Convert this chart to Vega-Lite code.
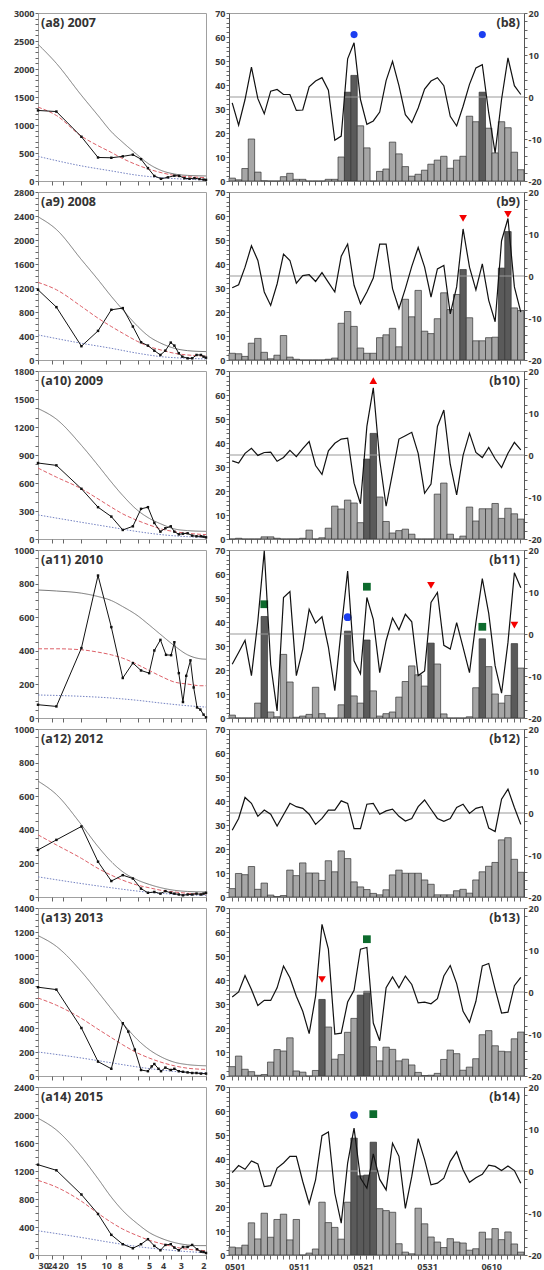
{
"$schema":"https://vega.github.io/schema/vega-lite/v6.json",
"padding":{"left":12,"top":8,"right":0,"bottom":0},
"background":"white",
"config":{
"font":"Open Sans",
"axis":{"labelFont":"Open Sans","labelFontWeight":"bold","labelFontSize":9,"labelColor":"#3a3a3a","tickColor":"#666","domainColor":"#555","grid":false,"labelPadding":1,"tickSize":3,"labelOverlap":false,"title":null},
"view":{"stroke":"#a0a0a0","strokeWidth":1},
"title":{"font":"Open Sans","fontSize":12.5,"fontWeight":"bold","color":"#333","frame":"group","baseline":"top","offset":-20}
},
"columns":2,"spacing":{"row":11,"column":23},"bounds":"flush",
"datasets":{
"Z":[{"z":0}],
"L":[
{"p":"a8","s":"g","x":30,"y":2442},{"p":"a8","s":"g","x":22.3,"y":2100},{"p":"a8","s":"g","x":14.9,"y":1530},{"p":"a8","s":"g","x":11.4,"y":1170},{"p":"a8","s":"g","x":9.2,"y":880},{"p":"a8","s":"g","x":7.65,"y":690},{"p":"a8","s":"g","x":6,"y":460},{"p":"a8","s":"g","x":5,"y":300},{"p":"a8","s":"g","x":4.13,"y":190},{"p":"a8","s":"g","x":3.33,"y":125},{"p":"a8","s":"g","x":2.69,"y":100},{"p":"a8","s":"g","x":2,"y":90},
{"p":"a8","s":"r","x":30,"y":1320},{"p":"a8","s":"r","x":22.3,"y":1170},{"p":"a8","s":"r","x":14.9,"y":800},{"p":"a8","s":"r","x":11.4,"y":630},{"p":"a8","s":"r","x":9.2,"y":510},{"p":"a8","s":"r","x":7.65,"y":400},{"p":"a8","s":"r","x":6,"y":282},{"p":"a8","s":"r","x":5,"y":210},{"p":"a8","s":"r","x":4.13,"y":150},{"p":"a8","s":"r","x":3.33,"y":100},{"p":"a8","s":"r","x":2.69,"y":78},{"p":"a8","s":"r","x":2,"y":60},
{"p":"a8","s":"b","x":30,"y":440},{"p":"a8","s":"b","x":14.9,"y":270},{"p":"a8","s":"b","x":9.2,"y":180},{"p":"a8","s":"b","x":6,"y":102},{"p":"a8","s":"b","x":4.13,"y":60},{"p":"a8","s":"b","x":2.69,"y":30},{"p":"a8","s":"b","x":2,"y":18},
{"p":"a8","s":"o","x":30,"y":1260},{"p":"a8","s":"o","x":22.3,"y":1240},{"p":"a8","s":"o","x":14.9,"y":790},{"p":"a8","s":"o","x":11.4,"y":420},{"p":"a8","s":"o","x":9.2,"y":415},{"p":"a8","s":"o","x":7.65,"y":440},{"p":"a8","s":"o","x":6.5,"y":470},{"p":"a8","s":"o","x":5.7,"y":390},{"p":"a8","s":"o","x":5.1,"y":230},{"p":"a8","s":"o","x":4.6,"y":90},{"p":"a8","s":"o","x":4.13,"y":40},{"p":"a8","s":"o","x":3.7,"y":65},{"p":"a8","s":"o","x":3.33,"y":95},{"p":"a8","s":"o","x":3.08,"y":90},{"p":"a8","s":"o","x":2.83,"y":50},{"p":"a8","s":"o","x":2.61,"y":40},{"p":"a8","s":"o","x":2.41,"y":50},{"p":"a8","s":"o","x":2.22,"y":35},{"p":"a8","s":"o","x":2.08,"y":25},{"p":"a8","s":"o","x":2,"y":20},
{"p":"a9","s":"g","x":30,"y":2387},{"p":"a9","s":"g","x":22.3,"y":2175},{"p":"a9","s":"g","x":14.9,"y":1673},{"p":"a9","s":"g","x":11.4,"y":1339},{"p":"a9","s":"g","x":9.2,"y":1060},{"p":"a9","s":"g","x":7.65,"y":837},{"p":"a9","s":"g","x":6,"y":558},{"p":"a9","s":"g","x":5,"y":390},{"p":"a9","s":"g","x":4.13,"y":279},{"p":"a9","s":"g","x":3.33,"y":195},{"p":"a9","s":"g","x":2.69,"y":156},{"p":"a9","s":"g","x":2,"y":140},
{"p":"a9","s":"r","x":30,"y":1294},{"p":"a9","s":"r","x":22.3,"y":1171},{"p":"a9","s":"r","x":14.9,"y":892},{"p":"a9","s":"r","x":11.4,"y":697},{"p":"a9","s":"r","x":9.2,"y":558},{"p":"a9","s":"r","x":7.65,"y":446},{"p":"a9","s":"r","x":6,"y":307},{"p":"a9","s":"r","x":5,"y":223},{"p":"a9","s":"r","x":4.13,"y":167},{"p":"a9","s":"r","x":3.33,"y":112},{"p":"a9","s":"r","x":2.69,"y":84},{"p":"a9","s":"r","x":2,"y":67},
{"p":"a9","s":"b","x":30,"y":418},{"p":"a9","s":"b","x":14.9,"y":279},{"p":"a9","s":"b","x":9.2,"y":195},{"p":"a9","s":"b","x":6,"y":112},{"p":"a9","s":"b","x":4.13,"y":56},{"p":"a9","s":"b","x":2.69,"y":28},{"p":"a9","s":"b","x":2,"y":17},
{"p":"a9","s":"o","x":30,"y":1171},{"p":"a9","s":"o","x":22.3,"y":881},{"p":"a9","s":"o","x":14.9,"y":230},{"p":"a9","s":"o","x":11.4,"y":485},{"p":"a9","s":"o","x":9.2,"y":837},{"p":"a9","s":"o","x":7.65,"y":865},{"p":"a9","s":"o","x":6.5,"y":558},{"p":"a9","s":"o","x":5.7,"y":296},{"p":"a9","s":"o","x":5.1,"y":240},{"p":"a9","s":"o","x":4.6,"y":156},{"p":"a9","s":"o","x":4.17,"y":84},{"p":"a9","s":"o","x":3.85,"y":156},{"p":"a9","s":"o","x":3.53,"y":290},{"p":"a9","s":"o","x":3.33,"y":240},{"p":"a9","s":"o","x":3.1,"y":112},{"p":"a9","s":"o","x":2.93,"y":56},{"p":"a9","s":"o","x":2.69,"y":28},{"p":"a9","s":"o","x":2.5,"y":28},{"p":"a9","s":"o","x":2.33,"y":84},{"p":"a9","s":"o","x":2.17,"y":84},{"p":"a9","s":"o","x":2.08,"y":56},{"p":"a9","s":"o","x":2,"y":39},
{"p":"a10","s":"g","x":30,"y":1398},{"p":"a10","s":"g","x":22.3,"y":1284},{"p":"a10","s":"g","x":14.9,"y":1004},{"p":"a10","s":"g","x":11.4,"y":789},{"p":"a10","s":"g","x":9.2,"y":610},{"p":"a10","s":"g","x":7.65,"y":466},{"p":"a10","s":"g","x":6,"y":305},{"p":"a10","s":"g","x":5,"y":222},{"p":"a10","s":"g","x":4.13,"y":161},{"p":"a10","s":"g","x":3.33,"y":108},{"p":"a10","s":"g","x":2.69,"y":90},{"p":"a10","s":"g","x":2,"y":82},
{"p":"a10","s":"r","x":30,"y":760},{"p":"a10","s":"r","x":22.3,"y":663},{"p":"a10","s":"r","x":14.9,"y":538},{"p":"a10","s":"r","x":11.4,"y":430},{"p":"a10","s":"r","x":9.2,"y":341},{"p":"a10","s":"r","x":7.65,"y":269},{"p":"a10","s":"r","x":6,"y":197},{"p":"a10","s":"r","x":5,"y":151},{"p":"a10","s":"r","x":4.13,"y":108},{"p":"a10","s":"r","x":3.33,"y":79},{"p":"a10","s":"r","x":2.69,"y":61},{"p":"a10","s":"r","x":2,"y":47},
{"p":"a10","s":"b","x":30,"y":258},{"p":"a10","s":"b","x":14.9,"y":179},{"p":"a10","s":"b","x":9.2,"y":126},{"p":"a10","s":"b","x":6,"y":79},{"p":"a10","s":"b","x":4.13,"y":47},{"p":"a10","s":"b","x":2.69,"y":25},{"p":"a10","s":"b","x":2,"y":18},
{"p":"a10","s":"o","x":30,"y":814},{"p":"a10","s":"o","x":22.3,"y":789},{"p":"a10","s":"o","x":14.9,"y":538},{"p":"a10","s":"o","x":11.4,"y":341},{"p":"a10","s":"o","x":9.2,"y":240},{"p":"a10","s":"o","x":7.65,"y":97},{"p":"a10","s":"o","x":6.5,"y":136},{"p":"a10","s":"o","x":5.7,"y":323},{"p":"a10","s":"o","x":5.1,"y":341},{"p":"a10","s":"o","x":4.6,"y":172},{"p":"a10","s":"o","x":4.17,"y":79},{"p":"a10","s":"o","x":3.85,"y":115},{"p":"a10","s":"o","x":3.53,"y":136},{"p":"a10","s":"o","x":3.33,"y":79},{"p":"a10","s":"o","x":3.1,"y":50},{"p":"a10","s":"o","x":2.9,"y":57},{"p":"a10","s":"o","x":2.69,"y":61},{"p":"a10","s":"o","x":2.5,"y":36},{"p":"a10","s":"o","x":2.33,"y":29},{"p":"a10","s":"o","x":2.17,"y":29},{"p":"a10","s":"o","x":2.08,"y":25},{"p":"a10","s":"o","x":2,"y":18},
{"p":"a11","s":"g","x":30,"y":762},{"p":"a11","s":"g","x":22.3,"y":756},{"p":"a11","s":"g","x":14.9,"y":743},{"p":"a11","s":"g","x":11.4,"y":723},{"p":"a11","s":"g","x":9.2,"y":699},{"p":"a11","s":"g","x":7.65,"y":663},{"p":"a11","s":"g","x":6,"y":608},{"p":"a11","s":"g","x":5,"y":554},{"p":"a11","s":"g","x":4.13,"y":495},{"p":"a11","s":"g","x":3.33,"y":430},{"p":"a11","s":"g","x":2.69,"y":376},{"p":"a11","s":"g","x":2.17,"y":352},{"p":"a11","s":"g","x":2,"y":350},
{"p":"a11","s":"r","x":30,"y":412},{"p":"a11","s":"r","x":22.3,"y":412},{"p":"a11","s":"r","x":14.9,"y":406},{"p":"a11","s":"r","x":11.4,"y":392},{"p":"a11","s":"r","x":9.2,"y":376},{"p":"a11","s":"r","x":7.65,"y":356},{"p":"a11","s":"r","x":6,"y":317},{"p":"a11","s":"r","x":5,"y":283},{"p":"a11","s":"r","x":4.13,"y":248},{"p":"a11","s":"r","x":3.33,"y":214},{"p":"a11","s":"r","x":2.69,"y":202},{"p":"a11","s":"r","x":2.17,"y":192},{"p":"a11","s":"r","x":2,"y":192},
{"p":"a11","s":"b","x":30,"y":137},{"p":"a11","s":"b","x":14.9,"y":129},{"p":"a11","s":"b","x":9.2,"y":119},{"p":"a11","s":"b","x":6,"y":105},{"p":"a11","s":"b","x":4.13,"y":89},{"p":"a11","s":"b","x":2.69,"y":73},{"p":"a11","s":"b","x":2,"y":65},
{"p":"a11","s":"o","x":30,"y":79},{"p":"a11","s":"o","x":22.3,"y":69},{"p":"a11","s":"o","x":14.9,"y":416},{"p":"a11","s":"o","x":11.4,"y":848},{"p":"a11","s":"o","x":9.2,"y":541},{"p":"a11","s":"o","x":7.65,"y":238},{"p":"a11","s":"o","x":6.5,"y":327},{"p":"a11","s":"o","x":5.7,"y":283},{"p":"a11","s":"o","x":5,"y":267},{"p":"a11","s":"o","x":4.6,"y":402},{"p":"a11","s":"o","x":4.17,"y":465},{"p":"a11","s":"o","x":3.81,"y":376},{"p":"a11","s":"o","x":3.51,"y":374},{"p":"a11","s":"o","x":3.33,"y":451},{"p":"a11","s":"o","x":3.1,"y":267},{"p":"a11","s":"o","x":2.9,"y":95},{"p":"a11","s":"o","x":2.75,"y":251},{"p":"a11","s":"o","x":2.57,"y":343},{"p":"a11","s":"o","x":2.44,"y":182},{"p":"a11","s":"o","x":2.31,"y":63},{"p":"a11","s":"o","x":2.19,"y":50},{"p":"a11","s":"o","x":2.08,"y":20},{"p":"a11","s":"o","x":2,"y":4},
{"p":"a12","s":"g","x":30,"y":690},{"p":"a12","s":"g","x":22.3,"y":610},{"p":"a12","s":"g","x":14.9,"y":430},{"p":"a12","s":"g","x":11.4,"y":300},{"p":"a12","s":"g","x":9.2,"y":210},{"p":"a12","s":"g","x":7.65,"y":150},{"p":"a12","s":"g","x":6,"y":100},{"p":"a12","s":"g","x":5,"y":75},{"p":"a12","s":"g","x":4.13,"y":55},{"p":"a12","s":"g","x":3.33,"y":40},{"p":"a12","s":"g","x":2.69,"y":33},{"p":"a12","s":"g","x":2,"y":30},
{"p":"a12","s":"r","x":30,"y":370},{"p":"a12","s":"r","x":22.3,"y":310},{"p":"a12","s":"r","x":14.9,"y":230},{"p":"a12","s":"r","x":11.4,"y":170},{"p":"a12","s":"r","x":9.2,"y":130},{"p":"a12","s":"r","x":7.65,"y":100},{"p":"a12","s":"r","x":6,"y":70},{"p":"a12","s":"r","x":5,"y":55},{"p":"a12","s":"r","x":4.13,"y":40},{"p":"a12","s":"r","x":3.33,"y":30},{"p":"a12","s":"r","x":2.69,"y":22},{"p":"a12","s":"r","x":2,"y":17},
{"p":"a12","s":"b","x":30,"y":120},{"p":"a12","s":"b","x":14.9,"y":80},{"p":"a12","s":"b","x":9.2,"y":55},{"p":"a12","s":"b","x":6,"y":35},{"p":"a12","s":"b","x":4.13,"y":22},{"p":"a12","s":"b","x":2.69,"y":12},{"p":"a12","s":"b","x":2,"y":10},
{"p":"a12","s":"o","x":30,"y":280},{"p":"a12","s":"o","x":22.3,"y":340},{"p":"a12","s":"o","x":14.9,"y":420},{"p":"a12","s":"o","x":11.4,"y":210},{"p":"a12","s":"o","x":9.2,"y":95},{"p":"a12","s":"o","x":7.65,"y":130},{"p":"a12","s":"o","x":6.5,"y":110},{"p":"a12","s":"o","x":5.7,"y":50},{"p":"a12","s":"o","x":5.1,"y":25},{"p":"a12","s":"o","x":4.6,"y":30},{"p":"a12","s":"o","x":4.17,"y":20},{"p":"a12","s":"o","x":3.85,"y":35},{"p":"a12","s":"o","x":3.53,"y":25},{"p":"a12","s":"o","x":3.33,"y":20},{"p":"a12","s":"o","x":3.1,"y":15},{"p":"a12","s":"o","x":2.9,"y":10},{"p":"a12","s":"o","x":2.69,"y":15},{"p":"a12","s":"o","x":2.5,"y":15},{"p":"a12","s":"o","x":2.33,"y":20},{"p":"a12","s":"o","x":2.17,"y":15},{"p":"a12","s":"o","x":2.08,"y":20},{"p":"a12","s":"o","x":2,"y":25},
{"p":"a13","s":"g","x":30,"y":1170},{"p":"a13","s":"g","x":22.3,"y":1080},{"p":"a13","s":"g","x":14.9,"y":870},{"p":"a13","s":"g","x":11.4,"y":700},{"p":"a13","s":"g","x":9.2,"y":560},{"p":"a13","s":"g","x":7.65,"y":440},{"p":"a13","s":"g","x":6,"y":300},{"p":"a13","s":"g","x":5,"y":220},{"p":"a13","s":"g","x":4.13,"y":160},{"p":"a13","s":"g","x":3.33,"y":115},{"p":"a13","s":"g","x":2.69,"y":95},{"p":"a13","s":"g","x":2,"y":85},
{"p":"a13","s":"r","x":30,"y":650},{"p":"a13","s":"r","x":22.3,"y":590},{"p":"a13","s":"r","x":14.9,"y":480},{"p":"a13","s":"r","x":11.4,"y":390},{"p":"a13","s":"r","x":9.2,"y":320},{"p":"a13","s":"r","x":7.65,"y":260},{"p":"a13","s":"r","x":6,"y":190},{"p":"a13","s":"r","x":5,"y":150},{"p":"a13","s":"r","x":4.13,"y":115},{"p":"a13","s":"r","x":3.33,"y":85},{"p":"a13","s":"r","x":2.69,"y":65},{"p":"a13","s":"r","x":2,"y":55},
{"p":"a13","s":"b","x":30,"y":200},{"p":"a13","s":"b","x":14.9,"y":150},{"p":"a13","s":"b","x":9.2,"y":110},{"p":"a13","s":"b","x":6,"y":75},{"p":"a13","s":"b","x":4.13,"y":50},{"p":"a13","s":"b","x":2.69,"y":30},{"p":"a13","s":"b","x":2,"y":25},
{"p":"a13","s":"o","x":30,"y":740},{"p":"a13","s":"o","x":22.3,"y":720},{"p":"a13","s":"o","x":14.9,"y":400},{"p":"a13","s":"o","x":11.4,"y":120},{"p":"a13","s":"o","x":9.2,"y":60},{"p":"a13","s":"o","x":7.65,"y":440},{"p":"a13","s":"o","x":7,"y":370},{"p":"a13","s":"o","x":6.3,"y":220},{"p":"a13","s":"o","x":5.7,"y":50},{"p":"a13","s":"o","x":5.1,"y":40},{"p":"a13","s":"o","x":4.8,"y":80},{"p":"a13","s":"o","x":4.6,"y":100},{"p":"a13","s":"o","x":4.3,"y":60},{"p":"a13","s":"o","x":4.13,"y":40},{"p":"a13","s":"o","x":3.85,"y":70},{"p":"a13","s":"o","x":3.53,"y":50},{"p":"a13","s":"o","x":3.33,"y":60},{"p":"a13","s":"o","x":3.1,"y":40},{"p":"a13","s":"o","x":2.9,"y":35},{"p":"a13","s":"o","x":2.69,"y":30},{"p":"a13","s":"o","x":2.5,"y":25},{"p":"a13","s":"o","x":2.33,"y":25},{"p":"a13","s":"o","x":2.17,"y":20},{"p":"a13","s":"o","x":2,"y":20},
{"p":"a14","s":"g","x":30,"y":1954},{"p":"a14","s":"g","x":22.3,"y":1786},{"p":"a14","s":"g","x":14.9,"y":1402},{"p":"a14","s":"g","x":11.4,"y":1090},{"p":"a14","s":"g","x":9.2,"y":826},{"p":"a14","s":"g","x":7.65,"y":634},{"p":"a14","s":"g","x":6,"y":442},{"p":"a14","s":"g","x":5,"y":322},{"p":"a14","s":"g","x":4.13,"y":240},{"p":"a14","s":"g","x":3.33,"y":178},{"p":"a14","s":"g","x":2.69,"y":144},{"p":"a14","s":"g","x":2.17,"y":134},{"p":"a14","s":"g","x":2,"y":134},
{"p":"a14","s":"r","x":30,"y":1066},{"p":"a14","s":"r","x":22.3,"y":970},{"p":"a14","s":"r","x":14.9,"y":768},{"p":"a14","s":"r","x":11.4,"y":595},{"p":"a14","s":"r","x":9.2,"y":466},{"p":"a14","s":"r","x":7.65,"y":370},{"p":"a14","s":"r","x":6,"y":274},{"p":"a14","s":"r","x":5,"y":211},{"p":"a14","s":"r","x":4.13,"y":163},{"p":"a14","s":"r","x":3.33,"y":115},{"p":"a14","s":"r","x":2.69,"y":82},{"p":"a14","s":"r","x":2.17,"y":67},{"p":"a14","s":"r","x":2,"y":58},
{"p":"a14","s":"b","x":30,"y":346},{"p":"a14","s":"b","x":14.9,"y":250},{"p":"a14","s":"b","x":9.2,"y":178},{"p":"a14","s":"b","x":6,"y":120},{"p":"a14","s":"b","x":4.13,"y":82},{"p":"a14","s":"b","x":2.69,"y":48},{"p":"a14","s":"b","x":2,"y":34},
{"p":"a14","s":"o","x":30,"y":1290},{"p":"a14","s":"o","x":22.3,"y":1210},{"p":"a14","s":"o","x":14.9,"y":864},{"p":"a14","s":"o","x":11.4,"y":586},{"p":"a14","s":"o","x":9.2,"y":288},{"p":"a14","s":"o","x":7.65,"y":154},{"p":"a14","s":"o","x":6.5,"y":96},{"p":"a14","s":"o","x":5.7,"y":154},{"p":"a14","s":"o","x":5.1,"y":226},{"p":"a14","s":"o","x":4.6,"y":130},{"p":"a14","s":"o","x":4.17,"y":67},{"p":"a14","s":"o","x":3.85,"y":144},{"p":"a14","s":"o","x":3.53,"y":154},{"p":"a14","s":"o","x":3.33,"y":106},{"p":"a14","s":"o","x":3.1,"y":67},{"p":"a14","s":"o","x":2.9,"y":115},{"p":"a14","s":"o","x":2.69,"y":115},{"p":"a14","s":"o","x":2.5,"y":144},{"p":"a14","s":"o","x":2.31,"y":82},{"p":"a14","s":"o","x":2.17,"y":48},{"p":"a14","s":"o","x":2.08,"y":43},{"p":"a14","s":"o","x":2,"y":29}
],
"M":[
{"p":"b8","d":"0520","y":61,"m":"c"},{"p":"b8","d":"0609","y":61,"m":"c"},
{"p":"b9","d":"0606","y":59,"m":"v"},{"p":"b9","d":"0613","y":60.7,"m":"v"},
{"p":"b10","d":"0523","y":66,"m":"u"},
{"p":"b11","d":"0506","y":47.4,"m":"s"},{"p":"b11","d":"0519","y":42,"m":"c"},{"p":"b11","d":"0522","y":54.7,"m":"s"},{"p":"b11","d":"0601","y":55.3,"m":"v"},{"p":"b11","d":"0609","y":38,"m":"s"},{"p":"b11","d":"0614","y":38.7,"m":"v"},
{"p":"b13","d":"0515","y":40.2,"m":"v"},{"p":"b13","d":"0522","y":57,"m":"s"},
{"p":"b14","d":"0520","y":58.3,"m":"c"},{"p":"b14","d":"0523","y":58.7,"m":"s"}
],
"R":[
{"p":"b8","d":"0501","v":1.2,"t":-1.4,"k":"l"},{"p":"b8","d":"0502","v":0.5,"t":-6.7,"k":"l"},{"p":"b8","d":"0503","v":5.2,"t":-0.6,"k":"l"},{"p":"b8","d":"0504","v":17.5,"t":7.1,"k":"l"},{"p":"b8","d":"0505","v":3.7,"t":-0.4,"k":"l"},{"p":"b8","d":"0506","v":0.1,"t":-4.0,"k":"l"},{"p":"b8","d":"0507","v":0,"t":1.4,"k":"l"},{"p":"b8","d":"0508","v":0,"t":1.8,"k":"l"},{"p":"b8","d":"0509","v":1.8,"t":0.6,"k":"l"},{"p":"b8","d":"0510","v":3.2,"t":0.6,"k":"l"},{"p":"b8","d":"0511","v":0.7,"t":-3.2,"k":"l"},{"p":"b8","d":"0512","v":0.7,"t":-3.1,"k":"l"},{"p":"b8","d":"0513","v":0,"t":2.4,"k":"l"},{"p":"b8","d":"0514","v":0,"t":3.8,"k":"l"},{"p":"b8","d":"0515","v":0,"t":4.6,"k":"l"},{"p":"b8","d":"0516","v":0.7,"t":1.6,"k":"l"},{"p":"b8","d":"0517","v":0.7,"t":-10.3,"k":"l"},{"p":"b8","d":"0518","v":10,"t":-9.3,"k":"l"},{"p":"b8","d":"0519","v":37,"t":9.1,"k":"d"},{"p":"b8","d":"0520","v":44,"t":12.9,"k":"d"},{"p":"b8","d":"0521","v":23,"t":-0.6,"k":"l"},{"p":"b8","d":"0522","v":13.8,"t":-6.5,"k":"l"},{"p":"b8","d":"0523","v":0,"t":-5.7,"k":"l"},{"p":"b8","d":"0524","v":4,"t":-3.6,"k":"l"},{"p":"b8","d":"0525","v":5,"t":3.9,"k":"l"},{"p":"b8","d":"0526","v":16.2,"t":8.5,"k":"l"},{"p":"b8","d":"0527","v":11.3,"t":2.7,"k":"l"},{"p":"b8","d":"0528","v":6,"t":-4.2,"k":"l"},{"p":"b8","d":"0529","v":2,"t":-6.1,"k":"l"},{"p":"b8","d":"0530","v":2.8,"t":-2.6,"k":"l"},{"p":"b8","d":"0531","v":4.5,"t":1.9,"k":"l"},{"p":"b8","d":"0601","v":7,"t":3.8,"k":"l"},{"p":"b8","d":"0602","v":8.7,"t":4.6,"k":"l"},{"p":"b8","d":"0603","v":10.3,"t":2.7,"k":"l"},{"p":"b8","d":"0604","v":5.3,"t":-4.6,"k":"l"},{"p":"b8","d":"0605","v":8.7,"t":-6.9,"k":"l"},{"p":"b8","d":"0606","v":10.3,"t":-2.2,"k":"l"},{"p":"b8","d":"0607","v":27,"t":3.0,"k":"l"},{"p":"b8","d":"0608","v":24.7,"t":6.9,"k":"l"},{"p":"b8","d":"0609","v":37,"t":7.7,"k":"d"},{"p":"b8","d":"0610","v":22,"t":-3.8,"k":"l"},{"p":"b8","d":"0611","v":11.7,"t":-13.3,"k":"l"},{"p":"b8","d":"0612","v":24.7,"t":-0.6,"k":"l"},{"p":"b8","d":"0613","v":22.2,"t":9.3,"k":"l"},{"p":"b8","d":"0614","v":12,"t":2.7,"k":"l"},{"p":"b8","d":"0615","v":4.7,"t":0.6,"k":"l"},
{"p":"b9","d":"0501","v":2.8,"t":-2.8,"k":"l"},{"p":"b9","d":"0502","v":2.6,"t":-2.1,"k":"l"},{"p":"b9","d":"0503","v":1.5,"t":2.1,"k":"l"},{"p":"b9","d":"0504","v":7,"t":7.2,"k":"l"},{"p":"b9","d":"0505","v":9,"t":3.7,"k":"l"},{"p":"b9","d":"0506","v":3.2,"t":-3.8,"k":"l"},{"p":"b9","d":"0507","v":0.5,"t":-7.0,"k":"l"},{"p":"b9","d":"0508","v":2,"t":-1.9,"k":"l"},{"p":"b9","d":"0509","v":10.2,"t":5.2,"k":"l"},{"p":"b9","d":"0510","v":1.2,"t":3.7,"k":"l"},{"p":"b9","d":"0511","v":0.3,"t":-1.7,"k":"l"},{"p":"b9","d":"0512","v":0,"t":0.1,"k":"l"},{"p":"b9","d":"0513","v":0,"t":0.3,"k":"l"},{"p":"b9","d":"0514","v":0,"t":-1.3,"k":"l"},{"p":"b9","d":"0515","v":0,"t":0.8,"k":"l"},{"p":"b9","d":"0516","v":0.3,"t":-1.5,"k":"l"},{"p":"b9","d":"0517","v":0.8,"t":-3.8,"k":"l"},{"p":"b9","d":"0518","v":15.3,"t":4.7,"k":"l"},{"p":"b9","d":"0519","v":20.2,"t":7.6,"k":"l"},{"p":"b9","d":"0520","v":14,"t":-2.2,"k":"l"},{"p":"b9","d":"0521","v":5,"t":-6.6,"k":"l"},{"p":"b9","d":"0522","v":2.8,"t":-3.8,"k":"l"},{"p":"b9","d":"0523","v":2.8,"t":-0.5,"k":"l"},{"p":"b9","d":"0524","v":9.3,"t":7.6,"k":"l"},{"p":"b9","d":"0525","v":10.5,"t":7.6,"k":"l"},{"p":"b9","d":"0526","v":13.2,"t":-3.0,"k":"l"},{"p":"b9","d":"0527","v":5.5,"t":-7.8,"k":"l"},{"p":"b9","d":"0528","v":25.3,"t":-3.0,"k":"l"},{"p":"b9","d":"0529","v":18,"t":2.3,"k":"l"},{"p":"b9","d":"0530","v":29,"t":6.8,"k":"l"},{"p":"b9","d":"0531","v":12,"t":2.1,"k":"l"},{"p":"b9","d":"0601","v":11,"t":-5.0,"k":"l"},{"p":"b9","d":"0602","v":17.2,"t":1.7,"k":"l"},{"p":"b9","d":"0603","v":28,"t":2.5,"k":"l"},{"p":"b9","d":"0604","v":21,"t":-9.0,"k":"l"},{"p":"b9","d":"0605","v":27.3,"t":-2.6,"k":"l"},{"p":"b9","d":"0606","v":37.7,"t":11.2,"k":"d"},{"p":"b9","d":"0607","v":17.6,"t":2.1,"k":"l"},{"p":"b9","d":"0608","v":8,"t":-3.3,"k":"l"},{"p":"b9","d":"0609","v":8,"t":2.9,"k":"l"},{"p":"b9","d":"0610","v":9.3,"t":-5.8,"k":"l"},{"p":"b9","d":"0611","v":9.5,"t":-10.9,"k":"l"},{"p":"b9","d":"0612","v":38.3,"t":8.4,"k":"d"},{"p":"b9","d":"0613","v":53.5,"t":13.7,"k":"d"},{"p":"b9","d":"0614","v":21.7,"t":-2.6,"k":"l"},{"p":"b9","d":"0615","v":20.6,"t":-8.6,"k":"l"},
{"p":"b10","d":"0501","v":0,"t":-1.4,"k":"l"},{"p":"b10","d":"0502","v":0.3,"t":-1.9,"k":"l"},{"p":"b10","d":"0503","v":0,"t":0.4,"k":"l"},{"p":"b10","d":"0504","v":0,"t":1.6,"k":"l"},{"p":"b10","d":"0505","v":0,"t":-0.1,"k":"l"},{"p":"b10","d":"0506","v":0.9,"t":0.6,"k":"l"},{"p":"b10","d":"0507","v":0.9,"t":0.7,"k":"l"},{"p":"b10","d":"0508","v":0.3,"t":-1.5,"k":"l"},{"p":"b10","d":"0509","v":0,"t":-0.6,"k":"l"},{"p":"b10","d":"0510","v":0,"t":1.1,"k":"l"},{"p":"b10","d":"0511","v":0,"t":-0.4,"k":"l"},{"p":"b10","d":"0512","v":0.3,"t":1.5,"k":"l"},{"p":"b10","d":"0513","v":3.7,"t":3.2,"k":"l"},{"p":"b10","d":"0514","v":0,"t":-2.5,"k":"l"},{"p":"b10","d":"0515","v":0.5,"t":-4.6,"k":"l"},{"p":"b10","d":"0516","v":4.5,"t":1.0,"k":"l"},{"p":"b10","d":"0517","v":13.7,"t":2.8,"k":"l"},{"p":"b10","d":"0518","v":12.5,"t":3.8,"k":"l"},{"p":"b10","d":"0519","v":16.2,"t":4.0,"k":"l"},{"p":"b10","d":"0520","v":15,"t":-6.7,"k":"l"},{"p":"b10","d":"0521","v":6.8,"t":-11.6,"k":"l"},{"p":"b10","d":"0522","v":33.3,"t":6.8,"k":"d"},{"p":"b10","d":"0523","v":44,"t":16.0,"k":"d"},{"p":"b10","d":"0524","v":17.5,"t":-1.2,"k":"l"},{"p":"b10","d":"0525","v":7.3,"t":-12.2,"k":"l"},{"p":"b10","d":"0526","v":2.5,"t":-4.3,"k":"l"},{"p":"b10","d":"0527","v":3.5,"t":3.8,"k":"l"},{"p":"b10","d":"0528","v":4.1,"t":4.6,"k":"l"},{"p":"b10","d":"0529","v":2,"t":5.4,"k":"l"},{"p":"b10","d":"0530","v":0,"t":0.4,"k":"l"},{"p":"b10","d":"0531","v":0,"t":-9.1,"k":"l"},{"p":"b10","d":"0601","v":0,"t":-6.9,"k":"l"},{"p":"b10","d":"0602","v":18.7,"t":6.8,"k":"l"},{"p":"b10","d":"0603","v":23.3,"t":10.7,"k":"l"},{"p":"b10","d":"0604","v":2,"t":-2.2,"k":"l"},{"p":"b10","d":"0605","v":0,"t":-9.5,"k":"l"},{"p":"b10","d":"0606","v":1.2,"t":-0.1,"k":"l"},{"p":"b10","d":"0607","v":13.3,"t":5.2,"k":"l"},{"p":"b10","d":"0608","v":7.5,"t":0.6,"k":"l"},{"p":"b10","d":"0609","v":12.6,"t":-0.6,"k":"l"},{"p":"b10","d":"0610","v":12.6,"t":1.8,"k":"l"},{"p":"b10","d":"0611","v":14.8,"t":-0.9,"k":"l"},{"p":"b10","d":"0612","v":8.6,"t":-3.0,"k":"l"},{"p":"b10","d":"0613","v":12.8,"t":0.4,"k":"l"},{"p":"b10","d":"0614","v":10.5,"t":3.0,"k":"l"},{"p":"b10","d":"0615","v":8.3,"t":1.2,"k":"l"},
{"p":"b11","d":"0501","v":1.2,"t":-7.2,"k":"l"},{"p":"b11","d":"0502","v":0,"t":-4.4,"k":"l"},{"p":"b11","d":"0503","v":0,"t":-1.5,"k":"l"},{"p":"b11","d":"0504","v":0,"t":-9.9,"k":"l"},{"p":"b11","d":"0505","v":6.2,"t":3.1,"k":"l"},{"p":"b11","d":"0506","v":42.3,"t":19.8,"k":"d"},{"p":"b11","d":"0507","v":2.5,"t":-7.2,"k":"l"},{"p":"b11","d":"0508","v":0.5,"t":-18.3,"k":"l"},{"p":"b11","d":"0509","v":26.5,"t":8.7,"k":"l"},{"p":"b11","d":"0510","v":15,"t":10.1,"k":"l"},{"p":"b11","d":"0511","v":0.3,"t":-9.9,"k":"l"},{"p":"b11","d":"0512","v":0.8,"t":-3.6,"k":"l"},{"p":"b11","d":"0513","v":1.5,"t":5.9,"k":"l"},{"p":"b11","d":"0514","v":12.8,"t":2.6,"k":"l"},{"p":"b11","d":"0515","v":1.8,"t":4.1,"k":"l"},{"p":"b11","d":"0516","v":0,"t":-3.1,"k":"l"},{"p":"b11","d":"0517","v":0,"t":-13.5,"k":"l"},{"p":"b11","d":"0518","v":5.5,"t":1.1,"k":"l"},{"p":"b11","d":"0519","v":36.2,"t":15.0,"k":"d"},{"p":"b11","d":"0520","v":9.2,"t":-6.4,"k":"l"},{"p":"b11","d":"0521","v":6.2,"t":-9.5,"k":"l"},{"p":"b11","d":"0522","v":32.5,"t":8.7,"k":"d"},{"p":"b11","d":"0523","v":11.3,"t":3.5,"k":"l"},{"p":"b11","d":"0524","v":0.8,"t":-9.2,"k":"l"},{"p":"b11","d":"0525","v":1.8,"t":-1.6,"k":"l"},{"p":"b11","d":"0526","v":2.5,"t":3.8,"k":"l"},{"p":"b11","d":"0527","v":8.7,"t":1.0,"k":"l"},{"p":"b11","d":"0528","v":15.2,"t":4.7,"k":"l"},{"p":"b11","d":"0529","v":21.7,"t":2.9,"k":"l"},{"p":"b11","d":"0530","v":18,"t":-9.9,"k":"l"},{"p":"b11","d":"0531","v":13.3,"t":-8.8,"k":"l"},{"p":"b11","d":"0601","v":31.2,"t":7.5,"k":"d"},{"p":"b11","d":"0602","v":22.5,"t":9.9,"k":"l"},{"p":"b11","d":"0603","v":1.7,"t":-2.7,"k":"l"},{"p":"b11","d":"0604","v":0,"t":-3.6,"k":"l"},{"p":"b11","d":"0605","v":0,"t":2.7,"k":"l"},{"p":"b11","d":"0606","v":0,"t":-3.2,"k":"l"},{"p":"b11","d":"0607","v":0.5,"t":-9.2,"k":"l"},{"p":"b11","d":"0608","v":12.6,"t":2.7,"k":"l"},{"p":"b11","d":"0609","v":33,"t":13.2,"k":"d"},{"p":"b11","d":"0610","v":21.4,"t":4.9,"k":"l"},{"p":"b11","d":"0611","v":10,"t":-7.6,"k":"l"},{"p":"b11","d":"0612","v":6.2,"t":-14.1,"k":"l"},{"p":"b11","d":"0613","v":9.4,"t":-2.0,"k":"l"},{"p":"b11","d":"0614","v":31,"t":14.6,"k":"d"},{"p":"b11","d":"0615","v":20.8,"t":11.0,"k":"l"},
{"p":"b12","d":"0501","v":3.5,"t":-4.1,"k":"l"},{"p":"b12","d":"0502","v":9.8,"t":-1.3,"k":"l"},{"p":"b12","d":"0503","v":9.3,"t":3.7,"k":"l"},{"p":"b12","d":"0504","v":12.7,"t":2.3,"k":"l"},{"p":"b12","d":"0505","v":3.2,"t":-0.8,"k":"l"},{"p":"b12","d":"0506","v":5.8,"t":0.7,"k":"l"},{"p":"b12","d":"0507","v":0.8,"t":-0.3,"k":"l"},{"p":"b12","d":"0508","v":0.2,"t":-3.1,"k":"l"},{"p":"b12","d":"0509","v":0.6,"t":-0.4,"k":"l"},{"p":"b12","d":"0510","v":11.2,"t":2.3,"k":"l"},{"p":"b12","d":"0511","v":8.9,"t":1.5,"k":"l"},{"p":"b12","d":"0512","v":14.2,"t":1.1,"k":"l"},{"p":"b12","d":"0513","v":10,"t":-0.3,"k":"l"},{"p":"b12","d":"0514","v":10,"t":-2.7,"k":"l"},{"p":"b12","d":"0515","v":6.9,"t":-1.3,"k":"l"},{"p":"b12","d":"0516","v":15.1,"t":0.7,"k":"l"},{"p":"b12","d":"0517","v":10.5,"t":0.7,"k":"l"},{"p":"b12","d":"0518","v":19.2,"t":2.9,"k":"l"},{"p":"b12","d":"0519","v":16,"t":2.3,"k":"l"},{"p":"b12","d":"0520","v":6.3,"t":-3.7,"k":"l"},{"p":"b12","d":"0521","v":4.2,"t":-3.7,"k":"l"},{"p":"b12","d":"0522","v":3.1,"t":2.1,"k":"l"},{"p":"b12","d":"0523","v":1.5,"t":2.3,"k":"l"},{"p":"b12","d":"0524","v":0.9,"t":-0.3,"k":"l"},{"p":"b12","d":"0525","v":3,"t":0.5,"k":"l"},{"p":"b12","d":"0526","v":9.2,"t":0.9,"k":"l"},{"p":"b12","d":"0527","v":11.2,"t":-0.8,"k":"l"},{"p":"b12","d":"0528","v":9.9,"t":-1.9,"k":"l"},{"p":"b12","d":"0529","v":9.9,"t":-1.3,"k":"l"},{"p":"b12","d":"0530","v":9.9,"t":1.5,"k":"l"},{"p":"b12","d":"0531","v":7.1,"t":3.1,"k":"l"},{"p":"b12","d":"0601","v":5.3,"t":0.9,"k":"l"},{"p":"b12","d":"0602","v":0.9,"t":-1.3,"k":"l"},{"p":"b12","d":"0603","v":0.9,"t":-2.0,"k":"l"},{"p":"b12","d":"0604","v":0.9,"t":-1.3,"k":"l"},{"p":"b12","d":"0605","v":2.6,"t":1.3,"k":"l"},{"p":"b12","d":"0606","v":3.2,"t":2.1,"k":"l"},{"p":"b12","d":"0607","v":1.6,"t":-0.1,"k":"l"},{"p":"b12","d":"0608","v":7.1,"t":1.1,"k":"l"},{"p":"b12","d":"0609","v":10.5,"t":1.5,"k":"l"},{"p":"b12","d":"0610","v":12.8,"t":-3.6,"k":"l"},{"p":"b12","d":"0611","v":14.4,"t":-4.4,"k":"l"},{"p":"b12","d":"0612","v":23.8,"t":3.3,"k":"l"},{"p":"b12","d":"0613","v":24.7,"t":5.7,"k":"l"},{"p":"b12","d":"0614","v":15.7,"t":1.3,"k":"l"},{"p":"b12","d":"0615","v":10.3,"t":-2.7,"k":"l"},
{"p":"b13","d":"0501","v":3.9,"t":-1.2,"k":"l"},{"p":"b13","d":"0502","v":8.3,"t":0.0,"k":"l"},{"p":"b13","d":"0503","v":2.8,"t":3.9,"k":"l"},{"p":"b13","d":"0504","v":1.8,"t":0.6,"k":"l"},{"p":"b13","d":"0505","v":0.3,"t":-3.2,"k":"l"},{"p":"b13","d":"0506","v":0.6,"t":-2.0,"k":"l"},{"p":"b13","d":"0507","v":5.8,"t":-2.0,"k":"l"},{"p":"b13","d":"0508","v":11,"t":1.0,"k":"l"},{"p":"b13","d":"0509","v":10.4,"t":6.2,"k":"l"},{"p":"b13","d":"0510","v":15.9,"t":3.4,"k":"l"},{"p":"b13","d":"0511","v":2.1,"t":-1.0,"k":"l"},{"p":"b13","d":"0512","v":1.6,"t":-4.6,"k":"l"},{"p":"b13","d":"0513","v":0,"t":-9.9,"k":"l"},{"p":"b13","d":"0514","v":2.3,"t":-1.0,"k":"l"},{"p":"b13","d":"0515","v":31.9,"t":16.1,"k":"d"},{"p":"b13","d":"0516","v":20.4,"t":10.2,"k":"l"},{"p":"b13","d":"0517","v":7,"t":-10.0,"k":"l"},{"p":"b13","d":"0518","v":8.9,"t":-9.8,"k":"l"},{"p":"b13","d":"0519","v":18.2,"t":-2.4,"k":"l"},{"p":"b13","d":"0520","v":24,"t":0.4,"k":"l"},{"p":"b13","d":"0521","v":33.7,"t":10.2,"k":"d"},{"p":"b13","d":"0522","v":35.3,"t":10.6,"k":"d"},{"p":"b13","d":"0523","v":12.2,"t":-7.4,"k":"l"},{"p":"b13","d":"0524","v":6.3,"t":-11.6,"k":"l"},{"p":"b13","d":"0525","v":12,"t":1.0,"k":"l"},{"p":"b13","d":"0526","v":11.1,"t":3.6,"k":"l"},{"p":"b13","d":"0527","v":6.3,"t":1.0,"k":"l"},{"p":"b13","d":"0528","v":7,"t":3.8,"k":"l"},{"p":"b13","d":"0529","v":4.6,"t":1.8,"k":"l"},{"p":"b13","d":"0530","v":1.5,"t":-2.6,"k":"l"},{"p":"b13","d":"0531","v":0.2,"t":-2.4,"k":"l"},{"p":"b13","d":"0601","v":0.3,"t":-2.8,"k":"l"},{"p":"b13","d":"0602","v":1.1,"t":-1.6,"k":"l"},{"p":"b13","d":"0603","v":6.9,"t":3.8,"k":"l"},{"p":"b13","d":"0604","v":10.8,"t":6.3,"k":"l"},{"p":"b13","d":"0605","v":9.3,"t":2.0,"k":"l"},{"p":"b13","d":"0606","v":2.4,"t":-4.6,"k":"l"},{"p":"b13","d":"0607","v":3.7,"t":-7.2,"k":"l"},{"p":"b13","d":"0608","v":7.2,"t":-2.2,"k":"l"},{"p":"b13","d":"0609","v":17.2,"t":6.2,"k":"l"},{"p":"b13","d":"0610","v":18.9,"t":6.8,"k":"l"},{"p":"b13","d":"0611","v":12.6,"t":0.7,"k":"l"},{"p":"b13","d":"0612","v":10.3,"t":-5.0,"k":"l"},{"p":"b13","d":"0613","v":10.1,"t":-4.8,"k":"l"},{"p":"b13","d":"0614","v":15.5,"t":1.5,"k":"l"},{"p":"b13","d":"0615","v":18.3,"t":3.5,"k":"l"},
{"p":"b14","d":"0501","v":3.3,"t":-0.4,"k":"l"},{"p":"b14","d":"0502","v":3,"t":1.3,"k":"l"},{"p":"b14","d":"0503","v":4.1,"t":0.4,"k":"l"},{"p":"b14","d":"0504","v":13.4,"t":2.4,"k":"l"},{"p":"b14","d":"0505","v":6.7,"t":1.7,"k":"l"},{"p":"b14","d":"0506","v":17.4,"t":-3.7,"k":"l"},{"p":"b14","d":"0507","v":7.4,"t":-3.5,"k":"l"},{"p":"b14","d":"0508","v":14.8,"t":0.7,"k":"l"},{"p":"b14","d":"0509","v":17,"t":1.9,"k":"l"},{"p":"b14","d":"0510","v":6.3,"t":3.5,"k":"l"},{"p":"b14","d":"0511","v":14.8,"t":3.5,"k":"l"},{"p":"b14","d":"0512","v":0,"t":-2.5,"k":"l"},{"p":"b14","d":"0513","v":0.8,"t":-7.8,"k":"l"},{"p":"b14","d":"0514","v":2.5,"t":-2.1,"k":"l"},{"p":"b14","d":"0515","v":22,"t":8.4,"k":"l"},{"p":"b14","d":"0516","v":13.5,"t":9.3,"k":"l"},{"p":"b14","d":"0517","v":11.5,"t":-5.3,"k":"l"},{"p":"b14","d":"0518","v":6.6,"t":-12.4,"k":"l"},{"p":"b14","d":"0519","v":22,"t":1.9,"k":"l"},{"p":"b14","d":"0520","v":48.7,"t":10.2,"k":"d"},{"p":"b14","d":"0521","v":33,"t":-1.7,"k":"d"},{"p":"b14","d":"0522","v":33.3,"t":-4.1,"k":"d"},{"p":"b14","d":"0523","v":47,"t":4.1,"k":"d"},{"p":"b14","d":"0524","v":19.3,"t":-2.0,"k":"l"},{"p":"b14","d":"0525","v":18.5,"t":-4.5,"k":"l"},{"p":"b14","d":"0526","v":17.8,"t":6.6,"k":"l"},{"p":"b14","d":"0527","v":4.7,"t":3.5,"k":"l"},{"p":"b14","d":"0528","v":1.2,"t":-8.9,"k":"l"},{"p":"b14","d":"0529","v":0.5,"t":-1.3,"k":"l"},{"p":"b14","d":"0530","v":19.5,"t":7.7,"k":"l"},{"p":"b14","d":"0531","v":13,"t":2.7,"k":"l"},{"p":"b14","d":"0601","v":7.5,"t":-3.3,"k":"l"},{"p":"b14","d":"0602","v":5.4,"t":-2.9,"k":"l"},{"p":"b14","d":"0603","v":3.1,"t":-1.7,"k":"l"},{"p":"b14","d":"0604","v":6.8,"t":2.3,"k":"l"},{"p":"b14","d":"0605","v":5.4,"t":4.6,"k":"l"},{"p":"b14","d":"0606","v":5,"t":0.3,"k":"l"},{"p":"b14","d":"0607","v":2,"t":-2.7,"k":"l"},{"p":"b14","d":"0608","v":2.6,"t":-1.6,"k":"l"},{"p":"b14","d":"0609","v":9.5,"t":-0.8,"k":"l"},{"p":"b14","d":"0610","v":6.7,"t":1.4,"k":"l"},{"p":"b14","d":"0611","v":11,"t":1.1,"k":"l"},{"p":"b14","d":"0612","v":6.4,"t":0.1,"k":"l"},{"p":"b14","d":"0613","v":9.6,"t":1.2,"k":"l"},{"p":"b14","d":"0614","v":4.6,"t":0.1,"k":"l"},{"p":"b14","d":"0615","v":1.2,"t":-2.9,"k":"l"}
]
},
"concat":[
{"width":168,"height":168,"title":{"text":"(a8) 2007","anchor":"start","dx":3},"data":{"name":"L"},"transform":[{"filter":"datum.p=='a8'"}],
"encoding":{"x":{"field":"x","type":"quantitative","scale":{"type":"log","domain":[2,30],"reverse":true},"axis":{"values":[30,24,20,15,10,8,6,5,4,3.5,3,2.5,2],"labels":false,"domain":false,"tickSize":4}},
"y":{"field":"y","type":"quantitative","scale":{"domain":[0,3000],"nice":false},"axis":{"tickCount":30,"labelExpr":"datum.value % 500 == 0 ? '' + datum.value : ''","domain":false}}},
"layer":[
{"transform":[{"filter":"datum.s!='o'"}],"mark":{"type":"line","interpolate":"monotone","strokeWidth":1},"encoding":{"detail":{"field":"s"},"stroke":{"field":"s","scale":{"domain":["g","r","b"],"range":["#777777","#dd6068","#7482c2"]},"legend":null},"strokeDash":{"field":"s","scale":{"domain":["g","r","b"],"range":[[1,0],[4,2],[1.5,1.5]]},"legend":null}}},
{"transform":[{"filter":"datum.s=='o'"}],"mark":{"type":"line","color":"#111","strokeWidth":1,"point":{"filled":true,"size":6,"shape":"square","color":"#111"}}}]},
{"width":295,"height":168,"title":{"text":"(b8)","anchor":"end","dx":-4},
"layer":[
{"layer":[
{"data":{"name":"R"},"transform":[{"filter":"datum.p=='b8'"}],"mark":{"type":"bar","stroke":"#333","strokeWidth":0.7},"encoding":{"x":{"field":"d","type":"ordinal","scale":{"paddingInner":0,"paddingOuter":0},"axis":{"labels":false,"domain":false,"tickSize":4}},"y":{"field":"v","type":"quantitative","scale":{"domain":[0,70],"nice":false},"axis":{"tickCount":35,"labelExpr":"datum.value % 10 == 0 ? datum.label : ''"}},"color":{"field":"k","scale":{"domain":["l","d","c","v","u","s"],"range":["#a6a6a6","#5a5a5a","#1c3ef0","#f40000","#f40000","#0d6b2d"]},"legend":null}}},
{"data":{"name":"M"},"transform":[{"filter":"datum.p=='b8'"}],"mark":{"type":"point","filled":true,"size":50,"opacity":1},"encoding":{"x":{"field":"d","type":"ordinal"},"y":{"field":"y","type":"quantitative"},"color":{"field":"m","legend":null},"shape":{"field":"m","scale":{"domain":["c","v","u","s"],"range":["circle","triangle-down","triangle-up","square"]},"legend":null}}}]},
{"layer":[
{"data":{"name":"Z"},"mark":{"type":"rule","color":"#999","strokeWidth":1},"encoding":{"y":{"field":"z","type":"quantitative","scale":{"domain":[-20,20],"nice":false},"axis":{"orient":"right","tickCount":20,"labelExpr":"datum.value % 10 == 0 ? '' + datum.value : ''"}}}},
{"data":{"name":"R"},"transform":[{"filter":"datum.p=='b8'"}],"mark":{"type":"line","color":"#111","strokeWidth":1.2},"encoding":{"x":{"field":"d","type":"ordinal"},"y":{"field":"t","type":"quantitative"}}}]}],
"resolve":{"scale":{"y":"independent"}}},
{"width":168,"height":168,"title":{"text":"(a9) 2008","anchor":"start","dx":3},"data":{"name":"L"},"transform":[{"filter":"datum.p=='a9'"}],
"encoding":{"x":{"field":"x","type":"quantitative","scale":{"type":"log","domain":[2,30],"reverse":true},"axis":{"values":[30,24,20,15,10,8,6,5,4,3.5,3,2.5,2],"labels":false,"domain":false,"tickSize":4}},
"y":{"field":"y","type":"quantitative","scale":{"domain":[0,2800],"nice":false},"axis":{"tickCount":28,"labelExpr":"datum.value % 400 == 0 ? '' + datum.value : ''","domain":false}}},
"layer":[
{"transform":[{"filter":"datum.s!='o'"}],"mark":{"type":"line","interpolate":"monotone","strokeWidth":1},"encoding":{"detail":{"field":"s"},"stroke":{"field":"s","scale":{"domain":["g","r","b"],"range":["#777777","#dd6068","#7482c2"]},"legend":null},"strokeDash":{"field":"s","scale":{"domain":["g","r","b"],"range":[[1,0],[4,2],[1.5,1.5]]},"legend":null}}},
{"transform":[{"filter":"datum.s=='o'"}],"mark":{"type":"line","color":"#111","strokeWidth":1,"point":{"filled":true,"size":6,"shape":"square","color":"#111"}}}]},
{"width":295,"height":168,"title":{"text":"(b9)","anchor":"end","dx":-4},
"layer":[
{"layer":[
{"data":{"name":"R"},"transform":[{"filter":"datum.p=='b9'"}],"mark":{"type":"bar","stroke":"#333","strokeWidth":0.7},"encoding":{"x":{"field":"d","type":"ordinal","scale":{"paddingInner":0,"paddingOuter":0},"axis":{"labels":false,"domain":false,"tickSize":4}},"y":{"field":"v","type":"quantitative","scale":{"domain":[0,70],"nice":false},"axis":{"tickCount":35,"labelExpr":"datum.value % 10 == 0 ? datum.label : ''"}},"color":{"field":"k","scale":{"domain":["l","d","c","v","u","s"],"range":["#a6a6a6","#5a5a5a","#1c3ef0","#f40000","#f40000","#0d6b2d"]},"legend":null}}},
{"data":{"name":"M"},"transform":[{"filter":"datum.p=='b9'"}],"mark":{"type":"point","filled":true,"size":60,"opacity":1},"encoding":{"x":{"field":"d","type":"ordinal"},"y":{"field":"y","type":"quantitative"},"color":{"field":"m","legend":null},"shape":{"field":"m","scale":{"domain":["c","v","u","s"],"range":["circle","triangle-down","triangle-up","square"]},"legend":null}}}]},
{"layer":[
{"data":{"name":"Z"},"mark":{"type":"rule","color":"#999","strokeWidth":1},"encoding":{"y":{"field":"z","type":"quantitative","scale":{"domain":[-20,20],"nice":false},"axis":{"orient":"right","tickCount":20,"labelExpr":"datum.value % 10 == 0 ? '' + datum.value : ''"}}}},
{"data":{"name":"R"},"transform":[{"filter":"datum.p=='b9'"}],"mark":{"type":"line","color":"#111","strokeWidth":1.2},"encoding":{"x":{"field":"d","type":"ordinal"},"y":{"field":"t","type":"quantitative"}}}]}],
"resolve":{"scale":{"y":"independent"}}},
{"width":168,"height":168,"title":{"text":"(a10) 2009","anchor":"start","dx":3},"data":{"name":"L"},"transform":[{"filter":"datum.p=='a10'"}],
"encoding":{"x":{"field":"x","type":"quantitative","scale":{"type":"log","domain":[2,30],"reverse":true},"axis":{"values":[30,24,20,15,10,8,6,5,4,3.5,3,2.5,2],"labels":false,"domain":false,"tickSize":4}},
"y":{"field":"y","type":"quantitative","scale":{"domain":[0,1800],"nice":false},"axis":{"tickCount":18,"labelExpr":"datum.value % 300 == 0 ? '' + datum.value : ''","domain":false}}},
"layer":[
{"transform":[{"filter":"datum.s!='o'"}],"mark":{"type":"line","interpolate":"monotone","strokeWidth":1},"encoding":{"detail":{"field":"s"},"stroke":{"field":"s","scale":{"domain":["g","r","b"],"range":["#777777","#dd6068","#7482c2"]},"legend":null},"strokeDash":{"field":"s","scale":{"domain":["g","r","b"],"range":[[1,0],[4,2],[1.5,1.5]]},"legend":null}}},
{"transform":[{"filter":"datum.s=='o'"}],"mark":{"type":"line","color":"#111","strokeWidth":1,"point":{"filled":true,"size":6,"shape":"square","color":"#111"}}}]},
{"width":295,"height":168,"title":{"text":"(b10)","anchor":"end","dx":-4},
"layer":[
{"layer":[
{"data":{"name":"R"},"transform":[{"filter":"datum.p=='b10'"}],"mark":{"type":"bar","stroke":"#333","strokeWidth":0.7},"encoding":{"x":{"field":"d","type":"ordinal","scale":{"paddingInner":0,"paddingOuter":0},"axis":{"labels":false,"domain":false,"tickSize":4}},"y":{"field":"v","type":"quantitative","scale":{"domain":[0,70],"nice":false},"axis":{"tickCount":35,"labelExpr":"datum.value % 10 == 0 ? datum.label : ''"}},"color":{"field":"k","scale":{"domain":["l","d","c","v","u","s"],"range":["#a6a6a6","#5a5a5a","#1c3ef0","#f40000","#f40000","#0d6b2d"]},"legend":null}}},
{"data":{"name":"M"},"transform":[{"filter":"datum.p=='b10'"}],"mark":{"type":"point","filled":true,"size":60,"opacity":1},"encoding":{"x":{"field":"d","type":"ordinal"},"y":{"field":"y","type":"quantitative"},"color":{"field":"m","legend":null},"shape":{"field":"m","scale":{"domain":["c","v","u","s"],"range":["circle","triangle-down","triangle-up","square"]},"legend":null}}}]},
{"layer":[
{"data":{"name":"Z"},"mark":{"type":"rule","color":"#999","strokeWidth":1},"encoding":{"y":{"field":"z","type":"quantitative","scale":{"domain":[-20,20],"nice":false},"axis":{"orient":"right","tickCount":20,"labelExpr":"datum.value % 10 == 0 ? '' + datum.value : ''"}}}},
{"data":{"name":"R"},"transform":[{"filter":"datum.p=='b10'"}],"mark":{"type":"line","color":"#111","strokeWidth":1.2},"encoding":{"x":{"field":"d","type":"ordinal"},"y":{"field":"t","type":"quantitative"}}}]}],
"resolve":{"scale":{"y":"independent"}}},
{"width":168,"height":168,"title":{"text":"(a11) 2010","anchor":"start","dx":3},"data":{"name":"L"},"transform":[{"filter":"datum.p=='a11'"}],
"encoding":{"x":{"field":"x","type":"quantitative","scale":{"type":"log","domain":[2,30],"reverse":true},"axis":{"values":[30,24,20,15,10,8,6,5,4,3.5,3,2.5,2],"labels":false,"domain":false,"tickSize":4}},
"y":{"field":"y","type":"quantitative","scale":{"domain":[0,1000],"nice":false},"axis":{"tickCount":20,"labelExpr":"datum.value % 200 == 0 ? '' + datum.value : ''","domain":false}}},
"layer":[
{"transform":[{"filter":"datum.s!='o'"}],"mark":{"type":"line","interpolate":"monotone","strokeWidth":1},"encoding":{"detail":{"field":"s"},"stroke":{"field":"s","scale":{"domain":["g","r","b"],"range":["#777777","#dd6068","#7482c2"]},"legend":null},"strokeDash":{"field":"s","scale":{"domain":["g","r","b"],"range":[[1,0],[4,2],[1.5,1.5]]},"legend":null}}},
{"transform":[{"filter":"datum.s=='o'"}],"mark":{"type":"line","color":"#111","strokeWidth":1,"point":{"filled":true,"size":6,"shape":"square","color":"#111"}}}]},
{"width":295,"height":168,"title":{"text":"(b11)","anchor":"end","dx":-4},
"layer":[
{"layer":[
{"data":{"name":"R"},"transform":[{"filter":"datum.p=='b11'"}],"mark":{"type":"bar","stroke":"#333","strokeWidth":0.7},"encoding":{"x":{"field":"d","type":"ordinal","scale":{"paddingInner":0,"paddingOuter":0},"axis":{"labels":false,"domain":false,"tickSize":4}},"y":{"field":"v","type":"quantitative","scale":{"domain":[0,70],"nice":false},"axis":{"tickCount":35,"labelExpr":"datum.value % 10 == 0 ? datum.label : ''"}},"color":{"field":"k","scale":{"domain":["l","d","c","v","u","s"],"range":["#a6a6a6","#5a5a5a","#1c3ef0","#f40000","#f40000","#0d6b2d"]},"legend":null}}},
{"data":{"name":"M"},"transform":[{"filter":"datum.p=='b11'"}],"mark":{"type":"point","filled":true,"size":60,"opacity":1},"encoding":{"x":{"field":"d","type":"ordinal"},"y":{"field":"y","type":"quantitative"},"color":{"field":"m","legend":null},"shape":{"field":"m","scale":{"domain":["c","v","u","s"],"range":["circle","triangle-down","triangle-up","square"]},"legend":null}}}]},
{"layer":[
{"data":{"name":"Z"},"mark":{"type":"rule","color":"#999","strokeWidth":1},"encoding":{"y":{"field":"z","type":"quantitative","scale":{"domain":[-20,20],"nice":false},"axis":{"orient":"right","tickCount":20,"labelExpr":"datum.value % 10 == 0 ? '' + datum.value : ''"}}}},
{"data":{"name":"R"},"transform":[{"filter":"datum.p=='b11'"}],"mark":{"type":"line","color":"#111","strokeWidth":1.2},"encoding":{"x":{"field":"d","type":"ordinal"},"y":{"field":"t","type":"quantitative"}}}]}],
"resolve":{"scale":{"y":"independent"}}},
{"width":168,"height":168,"title":{"text":"(a12) 2012","anchor":"start","dx":3},"data":{"name":"L"},"transform":[{"filter":"datum.p=='a12'"}],
"encoding":{"x":{"field":"x","type":"quantitative","scale":{"type":"log","domain":[2,30],"reverse":true},"axis":{"values":[30,24,20,15,10,8,6,5,4,3.5,3,2.5,2],"labels":false,"domain":false,"tickSize":4}},
"y":{"field":"y","type":"quantitative","scale":{"domain":[0,1000],"nice":false},"axis":{"tickCount":20,"labelExpr":"datum.value % 200 == 0 ? '' + datum.value : ''","domain":false}}},
"layer":[
{"transform":[{"filter":"datum.s!='o'"}],"mark":{"type":"line","interpolate":"monotone","strokeWidth":1},"encoding":{"detail":{"field":"s"},"stroke":{"field":"s","scale":{"domain":["g","r","b"],"range":["#777777","#dd6068","#7482c2"]},"legend":null},"strokeDash":{"field":"s","scale":{"domain":["g","r","b"],"range":[[1,0],[4,2],[1.5,1.5]]},"legend":null}}},
{"transform":[{"filter":"datum.s=='o'"}],"mark":{"type":"line","color":"#111","strokeWidth":1,"point":{"filled":true,"size":6,"shape":"square","color":"#111"}}}]},
{"width":295,"height":168,"title":{"text":"(b12)","anchor":"end","dx":-4},
"layer":[
{"layer":[
{"data":{"name":"R"},"transform":[{"filter":"datum.p=='b12'"}],"mark":{"type":"bar","stroke":"#333","strokeWidth":0.7},"encoding":{"x":{"field":"d","type":"ordinal","scale":{"paddingInner":0,"paddingOuter":0},"axis":{"labels":false,"domain":false,"tickSize":4}},"y":{"field":"v","type":"quantitative","scale":{"domain":[0,70],"nice":false},"axis":{"tickCount":35,"labelExpr":"datum.value % 10 == 0 ? datum.label : ''"}},"color":{"field":"k","scale":{"domain":["l","d","c","v","u","s"],"range":["#a6a6a6","#5a5a5a","#1c3ef0","#f40000","#f40000","#0d6b2d"]},"legend":null}}}]},
{"layer":[
{"data":{"name":"Z"},"mark":{"type":"rule","color":"#999","strokeWidth":1},"encoding":{"y":{"field":"z","type":"quantitative","scale":{"domain":[-20,20],"nice":false},"axis":{"orient":"right","tickCount":20,"labelExpr":"datum.value % 10 == 0 ? '' + datum.value : ''"}}}},
{"data":{"name":"R"},"transform":[{"filter":"datum.p=='b12'"}],"mark":{"type":"line","color":"#111","strokeWidth":1.2},"encoding":{"x":{"field":"d","type":"ordinal"},"y":{"field":"t","type":"quantitative"}}}]}],
"resolve":{"scale":{"y":"independent"}}},
{"width":168,"height":168,"title":{"text":"(a13) 2013","anchor":"start","dx":3},"data":{"name":"L"},"transform":[{"filter":"datum.p=='a13'"}],
"encoding":{"x":{"field":"x","type":"quantitative","scale":{"type":"log","domain":[2,30],"reverse":true},"axis":{"values":[30,24,20,15,10,8,6,5,4,3.5,3,2.5,2],"labels":false,"domain":false,"tickSize":4}},
"y":{"field":"y","type":"quantitative","scale":{"domain":[0,1400],"nice":false},"axis":{"tickCount":28,"labelExpr":"datum.value % 200 == 0 ? '' + datum.value : ''","domain":false}}},
"layer":[
{"transform":[{"filter":"datum.s!='o'"}],"mark":{"type":"line","interpolate":"monotone","strokeWidth":1},"encoding":{"detail":{"field":"s"},"stroke":{"field":"s","scale":{"domain":["g","r","b"],"range":["#777777","#dd6068","#7482c2"]},"legend":null},"strokeDash":{"field":"s","scale":{"domain":["g","r","b"],"range":[[1,0],[4,2],[1.5,1.5]]},"legend":null}}},
{"transform":[{"filter":"datum.s=='o'"}],"mark":{"type":"line","color":"#111","strokeWidth":1,"point":{"filled":true,"size":6,"shape":"square","color":"#111"}}}]},
{"width":295,"height":168,"title":{"text":"(b13)","anchor":"end","dx":-4},
"layer":[
{"layer":[
{"data":{"name":"R"},"transform":[{"filter":"datum.p=='b13'"}],"mark":{"type":"bar","stroke":"#333","strokeWidth":0.7},"encoding":{"x":{"field":"d","type":"ordinal","scale":{"paddingInner":0,"paddingOuter":0},"axis":{"labels":false,"domain":false,"tickSize":4}},"y":{"field":"v","type":"quantitative","scale":{"domain":[0,70],"nice":false},"axis":{"tickCount":35,"labelExpr":"datum.value % 10 == 0 ? datum.label : ''"}},"color":{"field":"k","scale":{"domain":["l","d","c","v","u","s"],"range":["#a6a6a6","#5a5a5a","#1c3ef0","#f40000","#f40000","#0d6b2d"]},"legend":null}}},
{"data":{"name":"M"},"transform":[{"filter":"datum.p=='b13'"}],"mark":{"type":"point","filled":true,"size":60,"opacity":1},"encoding":{"x":{"field":"d","type":"ordinal"},"y":{"field":"y","type":"quantitative"},"color":{"field":"m","legend":null},"shape":{"field":"m","scale":{"domain":["c","v","u","s"],"range":["circle","triangle-down","triangle-up","square"]},"legend":null}}}]},
{"layer":[
{"data":{"name":"Z"},"mark":{"type":"rule","color":"#999","strokeWidth":1},"encoding":{"y":{"field":"z","type":"quantitative","scale":{"domain":[-20,20],"nice":false},"axis":{"orient":"right","tickCount":20,"labelExpr":"datum.value % 10 == 0 ? '' + datum.value : ''"}}}},
{"data":{"name":"R"},"transform":[{"filter":"datum.p=='b13'"}],"mark":{"type":"line","color":"#111","strokeWidth":1.2},"encoding":{"x":{"field":"d","type":"ordinal"},"y":{"field":"t","type":"quantitative"}}}]}],
"resolve":{"scale":{"y":"independent"}}},
{"width":168,"height":168,"title":{"text":"(a14) 2015","anchor":"start","dx":3},"data":{"name":"L"},"transform":[{"filter":"datum.p=='a14'"}],
"encoding":{"x":{"field":"x","type":"quantitative","scale":{"type":"log","domain":[2,30],"reverse":true},"axis":{"values":[30,24,20,15,10,8,6,5,4,3.5,3,2.5,2],"labelExpr":"indexof([6,3.5,2.5],datum.value) >= 0 ? '' : '' + datum.value","labelFontSize":9,"labelPadding":2,"domain":false,"tickSize":4}},
"y":{"field":"y","type":"quantitative","scale":{"domain":[0,2400],"nice":false},"axis":{"tickCount":24,"labelExpr":"datum.value % 400 == 0 ? '' + datum.value : ''","domain":false}}},
"layer":[
{"transform":[{"filter":"datum.s!='o'"}],"mark":{"type":"line","interpolate":"monotone","strokeWidth":1},"encoding":{"detail":{"field":"s"},"stroke":{"field":"s","scale":{"domain":["g","r","b"],"range":["#777777","#dd6068","#7482c2"]},"legend":null},"strokeDash":{"field":"s","scale":{"domain":["g","r","b"],"range":[[1,0],[4,2],[1.5,1.5]]},"legend":null}}},
{"transform":[{"filter":"datum.s=='o'"}],"mark":{"type":"line","color":"#111","strokeWidth":1,"point":{"filled":true,"size":6,"shape":"square","color":"#111"}}}]},
{"width":295,"height":168,"title":{"text":"(b14)","anchor":"end","dx":-4},
"layer":[
{"layer":[
{"data":{"name":"R"},"transform":[{"filter":"datum.p=='b14'"}],"mark":{"type":"bar","stroke":"#333","strokeWidth":0.7},"encoding":{"x":{"field":"d","type":"ordinal","scale":{"paddingInner":0,"paddingOuter":0},"axis":{"labelExpr":"indexof(['0501','0511','0521','0531','0610'],datum.value) >= 0 ? datum.value : ''","labelAngle":0,"labelFontSize":9,"labelPadding":3,"labelOffset":3,"domain":false,"tickSize":4}},"y":{"field":"v","type":"quantitative","scale":{"domain":[0,70],"nice":false},"axis":{"tickCount":35,"labelExpr":"datum.value % 10 == 0 ? datum.label : ''"}},"color":{"field":"k","scale":{"domain":["l","d","c","v","u","s"],"range":["#a6a6a6","#5a5a5a","#1c3ef0","#f40000","#f40000","#0d6b2d"]},"legend":null}}},
{"data":{"name":"M"},"transform":[{"filter":"datum.p=='b14'"}],"mark":{"type":"point","filled":true,"size":60,"opacity":1},"encoding":{"x":{"field":"d","type":"ordinal"},"y":{"field":"y","type":"quantitative"},"color":{"field":"m","legend":null},"shape":{"field":"m","scale":{"domain":["c","v","u","s"],"range":["circle","triangle-down","triangle-up","square"]},"legend":null}}}]},
{"layer":[
{"data":{"name":"Z"},"mark":{"type":"rule","color":"#999","strokeWidth":1},"encoding":{"y":{"field":"z","type":"quantitative","scale":{"domain":[-20,20],"nice":false},"axis":{"orient":"right","tickCount":20,"labelExpr":"datum.value % 10 == 0 ? '' + datum.value : ''"}}}},
{"data":{"name":"R"},"transform":[{"filter":"datum.p=='b14'"}],"mark":{"type":"line","color":"#111","strokeWidth":1.2},"encoding":{"x":{"field":"d","type":"ordinal"},"y":{"field":"t","type":"quantitative"}}}]}],
"resolve":{"scale":{"y":"independent"}}}
]
}
